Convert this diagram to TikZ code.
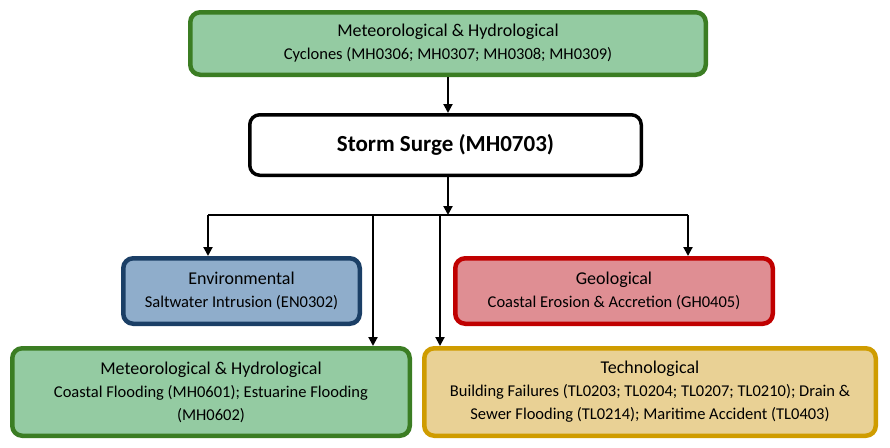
\documentclass[tikz,border=0pt]{standalone}
\usepackage{fontspec}
\setmainfont{Carlito}
\usetikzlibrary{arrows.meta}
\definecolor{gfill}{HTML}{94CBA2}
\definecolor{gline}{HTML}{3B7D23}
\definecolor{bfill}{HTML}{8FADCB}
\definecolor{bline}{HTML}{1B3F66}
\definecolor{rfill}{HTML}{DF8E93}
\definecolor{rline}{HTML}{C00000}
\definecolor{yfill}{HTML}{E9D195}
\definecolor{yline}{HTML}{CF9C00}
\begin{document}
\begin{tikzpicture}[x=1pt,y=-1pt,
  box/.style={rounded corners=10pt, line width=4.5pt, align=center, inner sep=0pt,
    font=\fontsize{16.5}{23}\selectfont},
  conn/.style={line width=2pt},
  arr/.style={conn,-{Triangle[length=9pt,width=9pt]}}]
\useasboundingbox (0,0) rectangle (890,447);
\node[box, draw=gline, fill=gfill, minimum width=515.5pt, minimum height=62.5pt] (top) at (448,43.5)
  {{\fontsize{18}{23}\selectfont Meteorological \& Hydrological}\\Cyclones (MH0306; MH0307; MH0308; MH0309)};
\node[box, draw=black, fill=white, line width=3.5pt, minimum width=391.5pt, minimum height=60.5pt,
  font=\bfseries\fontsize{23}{28}\selectfont] (storm) at (445.5,145) {Storm Surge (MH0703)};
\node[box, draw=bline, fill=bfill, minimum width=236.5pt, minimum height=65.5pt] (env) at (241.5,291)
  {{\fontsize{18}{23}\selectfont Environmental}\\Saltwater Intrusion (EN0302)};
\node[box, draw=rline, fill=rfill, minimum width=317.5pt, minimum height=65.5pt] (geo) at (614,291)
  {{\fontsize{18}{23}\selectfont Geological}\\Coastal Erosion \& Accretion (GH0405)};
\node[box, draw=gline, fill=gfill, minimum width=397.5pt, minimum height=87.5pt] (bl) at (211,392)
  {{\fontsize{18}{23}\selectfont Meteorological \& Hydrological}\\Coastal Flooding (MH0601); Estuarine Flooding\\(MH0602)};
\node[box, draw=yline, fill=yfill, minimum width=451.5pt, minimum height=87.5pt] (br) at (650,392)
  {{\fontsize{18}{23}\selectfont Technological}\\Building Failures (TL0203; TL0204; TL0207; TL0210); Drain \&\\Sewer Flooding (TL0214); Maritime Accident (TL0403)};
\coordinate (j) at (448,215);
\coordinate (jl) at (208,215);
\coordinate (jr) at (688,215);
\coordinate (j1) at (373,215);
\coordinate (j2) at (440,215);
\draw[arr] (top.south) -- (top.south |- storm.north);
\draw[arr] (storm.south -| j) -- (j);
\draw[conn] (jl) -- (jr);
\draw[arr] (jl) -- (jl |- env.north);
\draw[arr] (jr) -- (jr |- geo.north);
\draw[arr] (j1) -- (j1 |- bl.north);
\draw[arr] (j2) -- (j2 |- br.north);
\end{tikzpicture}
\end{document}
